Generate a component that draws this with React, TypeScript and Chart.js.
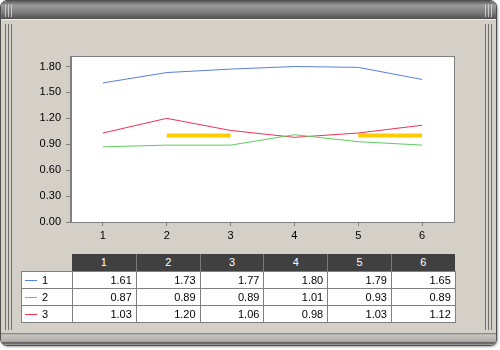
import React, { useEffect, useRef } from "react";
import { Chart, registerables } from "chart.js";

Chart.register(...registerables);

const categories = ["1", "2", "3", "4", "5", "6"];
const seriesNames = ["1", "2", "3"];
const series1 = [1.61, 1.73, 1.77, 1.8, 1.79, 1.65];
const series2 = [0.87, 0.89, 0.89, 1.01, 0.93, 0.89];
const series3 = [1.03, 1.2, 1.06, 0.98, 1.03, 1.12];
const targetLine = [null, 1.0, 1.0, null, 1.0, 1.0];
const yTicks = [0, 0.3, 0.6, 0.9, 1.2, 1.5, 1.8];
const seriesColors = ["#5b7fe0", "#5fcc5f", "#ee3355"];

const allSeries = [series1, series2, series3];

const plotFrame = {
  id: "plotFrame",
  beforeDraw(chart: any) {
    const { ctx, chartArea } = chart;
    ctx.save();
    ctx.fillStyle = "#ffffff";
    ctx.fillRect(chartArea.left, chartArea.top, chartArea.right - chartArea.left, chartArea.bottom - chartArea.top);
    ctx.restore();
  },
  afterDraw(chart: any) {
    const { ctx, chartArea } = chart;
    ctx.save();
    ctx.strokeStyle = "#808080";
    ctx.lineWidth = 1;
    ctx.strokeRect(
      Math.round(chartArea.left) - 0.5,
      Math.round(chartArea.top) - 0.5,
      Math.round(chartArea.right - chartArea.left) + 1,
      Math.round(chartArea.bottom - chartArea.top) + 1
    );
    ctx.restore();
  },
};

const FONT = "'Liberation Sans', Arial, sans-serif";

export default function App() {
  const ref = useRef<HTMLCanvasElement>(null);

  useEffect(() => {
    if (!ref.current) return;
    const chart = new Chart(ref.current, {
      type: "line",
      data: {
        labels: categories,
        datasets: [
          ...allSeries.map((s, i) => ({
            label: seriesNames[i],
            data: s,
            borderColor: seriesColors[i],
            backgroundColor: seriesColors[i],
            borderWidth: 1,
            pointRadius: 0,
            tension: 0,
            fill: false,
          })),
          {
            label: "target",
            data: targetLine,
            borderColor: "#ffcc00",
            backgroundColor: "#ffcc00",
            borderWidth: 4,
            pointRadius: 0,
            spanGaps: false,
            fill: false,
          } as any,
        ],
      },
      options: {
        animation: false,
        responsive: false,
        layout: { padding: { left: 21, right: 46, top: 57, bottom: 108 } },
        plugins: { legend: { display: false }, tooltip: { enabled: false } },
        scales: {
          x: {
            type: "category",
            offset: true,
            grid: { offset: false, drawOnChartArea: false, drawTicks: true, tickLength: 4, color: "#808080" },
            border: { display: true, color: "#808080" },
            ticks: { color: "#000", font: { family: FONT, size: 11 }, padding: 3, maxRotation: 0 },
            afterFit: (s: any) => {
              s.height = 20;
            },
          },
          y: {
            min: 0,
            max: 1.91,
            grid: { drawOnChartArea: false, drawTicks: true, tickLength: 5, color: "#808080" },
            border: { display: true, color: "#808080" },
            ticks: {
              color: "#000",
              font: { family: FONT, size: 11 },
              padding: 5,
              callback: (v: any) => Number(v).toFixed(2),
            },
            afterBuildTicks: (axis: any) => {
              axis.ticks = yTicks.map((v) => ({ value: v }));
            },
            afterFit: (s: any) => {
              s.width = 50;
            },
          },
        },
      },
      plugins: [plotFrame],
    } as any);
    return () => chart.destroy();
  }, []);

  const colLeft = 72;
  const colW = 63.8;
  const headerTop = 254;
  const rowH = 17;
  const legendLeft = 21;

  const cells: React.ReactNode[] = [];
  categories.forEach((c, j) => {
    cells.push(
      <div
        key={"h" + j}
        style={{
          position: "absolute",
          left: colLeft + j * colW,
          top: headerTop,
          width: colW,
          height: rowH,
          background: "#404040",
          color: "#fff",
          borderLeft: j > 0 ? "1px solid #7a7a7a" : "none",
          boxSizing: "border-box",
          textAlign: "center",
          lineHeight: rowH + "px",
          fontSize: 11,
          fontFamily: FONT,
        }}
      >
        {c}
      </div>
    );
  });
  allSeries.forEach((s, i) => {
    const top = headerTop + rowH + i * rowH;
    cells.push(
      <div
        key={"l" + i}
        style={{
          position: "absolute",
          left: legendLeft,
          top,
          width: colLeft - legendLeft + 1,
          height: rowH + 1,
          background: "#fff",
          border: "1px solid #808080",
          boxSizing: "border-box",
          fontSize: 11,
          fontFamily: FONT,
          lineHeight: rowH - 1 + "px",
        }}
      >
        <span
          style={{
            position: "absolute",
            left: 3,
            top: 8,
            width: 12,
            height: 1,
            background: seriesColors[i],
          }}
        />
        <span style={{ position: "absolute", left: 20, top: 0 }}>{seriesNames[i]}</span>
      </div>
    );
    s.forEach((v, j) => {
      cells.push(
        <div
          key={"c" + i + "_" + j}
          style={{
            position: "absolute",
            left: colLeft + j * colW,
            top,
            width: colW + 1,
            height: rowH + 1,
            background: "#fff",
            border: "1px solid #808080",
            boxSizing: "border-box",
            textAlign: "right",
            paddingRight: 4,
            fontSize: 11,
            fontFamily: FONT,
            lineHeight: rowH - 1 + "px",
          }}
        >
          {v.toFixed(2)}
        </div>
      );
    });
  });

  const vlines = (x0: number, top: number, height: number, color: string) =>
    [0, 3, 6].map((d) => (
      <div
        key={x0 + "_" + d + "_" + top}
        style={{ position: "absolute", left: x0 + d, top, width: 1, height, background: color }}
      />
    ));

  return (
    <div style={{ position: "absolute", left: 0, top: 0, width: 500, height: 350, background: "#ffffff", overflow: "hidden" }}>
      <div
        style={{
          position: "absolute",
          left: 0,
          top: 0,
          width: 497,
          height: 346,
          background: "#d4d0c8",
          border: "1px solid #505050",
          borderRadius: 7,
          boxSizing: "border-box",
          overflow: "hidden",
          boxShadow: "1px 1px 2px rgba(0,0,0,0.35)",
        }}
      >
        <div
          style={{
            position: "absolute",
            left: 0,
            top: 0,
            right: 0,
            height: 18,
            background: "linear-gradient(#5e5e5e 0%, #9a9a9a 25%, #7c7c7c 65%, #505050 100%)",
            borderBottom: "1px solid #ecebe7",
          }}
        />
        {vlines(4, 3, 13, "#c8c8c8")}
        {vlines(484, 3, 13, "#c8c8c8")}
        {vlines(4, 23, 306, "#707070")}
        {vlines(484, 23, 306, "#707070")}
        <div
          style={{
            position: "absolute",
            left: 0,
            right: 0,
            top: 332,
            height: 14,
            background: "linear-gradient(#7a7a7a 0%, #c8c6c0 15%, #b0aea8 60%, #505050 70%, #a8a8a8 85%, #8a8a8a 100%)",
          }}
        />
      </div>
      <canvas ref={ref} width={500} height={350} style={{ position: "absolute", left: 0, top: 0, width: 500, height: 350 }} />
      {cells}
    </div>
  );
}
